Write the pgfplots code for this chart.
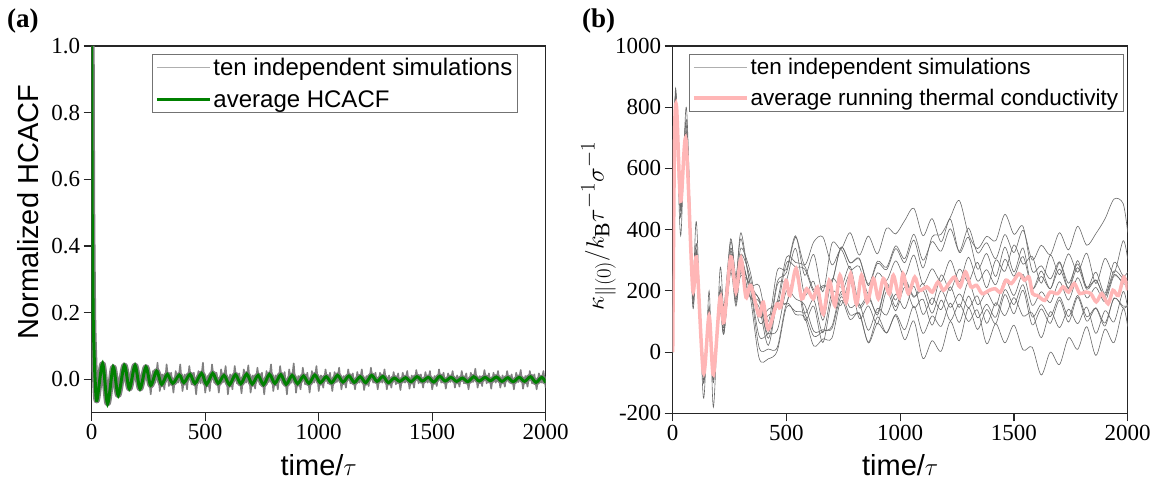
\documentclass[border=0pt]{standalone}
\usepackage{fontspec}
\setmainfont{Liberation Serif}
\newfontfamily\arialfont{Liberation Sans}
\usepackage{pgfplots}
\pgfplotsset{compat=1.18}
\usepackage{pgfplotstable}

\definecolor{hgreen}{RGB}{0,128,0}
\definecolor{kpink}{RGB}{255,182,182}
\definecolor{bandgray}{RGB}{128,128,128}
\definecolor{simgray}{RGB}{105,105,105}
\definecolor{leggray}{RGB}{175,175,175}

\pgfplotstableread{
t v
0 1.0
2 0.55
4 0.37
7 0.17
11 0.07
15 0.0
23 -0.063
48 0.047
70 -0.073
95 0.037
117 -0.048
144 0.042
166 -0.028
191 0.042
213 -0.028
239 0.037
260 -0.018
286 0.025
308 -0.015
333 0.015
357 -0.012
386 0.013
406 -0.010
433 0.015
455 -0.012
484 0.018
506 -0.015
533 0.018
557 -0.012
583 0.012
607 -0.016
633 0.014
657 -0.013
683 0.016
707 -0.014
733 0.012
757 -0.016
783 0.015
807 -0.012
833 0.014
857 -0.015
883 0.012
907 -0.013
933 0.010
957 -0.012
983 0.013
1007 -0.010
1033 0.008
1057 -0.010
1083 0.012
1107 -0.008
1133 0.010
1157 -0.009
1183 0.008
1207 -0.010
1233 0.012
1257 -0.006
1283 0.009
1307 -0.010
1333 0.004
1357 -0.006
1383 0.005
1407 -0.007
1433 0.008
1457 -0.005
1483 0.006
1507 -0.008
1533 0.009
1557 -0.005
1583 0.006
1607 -0.006
1633 0.004
1657 -0.007
1683 0.008
1707 -0.005
1733 0.006
1757 -0.004
1783 0.007
1807 -0.006
1833 0.005
1857 -0.007
1883 0.006
1907 -0.006
1933 0.008
1957 -0.009
1983 0.006
2000 -0.010
}\greendata

\pgfplotstableread{
t v
250 0.02
260 -0.045
270 0.025
280 -0.01
290 0.05
300 -0.035
310 0.015
320 -0.03
330 0.045
340 -0.02
350 0.02
360 -0.04
370 0.025
380 -0.01
390 0.045
400 -0.035
410 0.015
420 -0.03
430 0.04
440 -0.015
450 0.02
460 -0.045
470 0.025
480 -0.012
490 0.05
500 -0.04
510 0.01
520 -0.035
530 0.045
540 -0.01
550 0.02
560 -0.04
570 0.03
580 -0.008
590 0.04
600 -0.045
610 0.015
620 -0.03
630 0.04
640 -0.012
650 0.018
660 -0.042
670 0.03
680 -0.01
690 0.042
700 -0.04
710 0.012
720 -0.028
730 0.035
740 -0.015
750 0.02
760 -0.045
770 0.025
780 -0.008
790 0.045
800 -0.035
810 0.012
820 -0.03
830 0.04
840 -0.012
850 0.022
860 -0.045
870 0.03
880 -0.01
890 0.048
900 -0.04
910 0.01
920 -0.03
930 0.035
940 -0.015
950 0.02
960 -0.04
970 0.025
980 -0.01
990 0.04
1000 -0.035
1010 0.012
1020 -0.025
1030 0.03
1040 -0.012
1050 0.02
1060 -0.035
1070 0.022
1080 -0.008
1090 0.035
1100 -0.03
1110 0.01
1120 -0.025
1130 0.03
1140 -0.012
1150 0.018
1160 -0.03
1170 0.022
1180 -0.01
1190 0.03
1200 -0.032
1210 0.01
1220 -0.02
1230 0.035
1240 -0.01
1250 0.02
1260 -0.03
1270 0.02
1280 -0.01
1290 0.03
1300 -0.03
1310 0.012
1320 -0.025
1330 0.022
1340 -0.015
1350 0.018
1360 -0.032
1370 0.02
1380 -0.01
1390 0.025
1400 -0.028
1410 0.012
1420 -0.025
1430 0.028
1440 -0.012
1450 0.015
1460 -0.025
1470 0.022
1480 -0.01
1490 0.025
1500 -0.03
1510 0.01
1520 -0.02
1530 0.03
1540 -0.01
1550 0.02
1560 -0.028
1570 0.018
1580 -0.008
1590 0.025
1600 -0.025
1610 0.012
1620 -0.022
1630 0.025
1640 -0.012
1650 0.018
1660 -0.03
1670 0.02
1680 -0.008
1690 0.032
1700 -0.025
1710 0.01
1720 -0.02
1730 0.028
1740 -0.012
1750 0.018
1760 -0.028
1770 0.02
1780 -0.01
1790 0.025
1800 -0.025
1810 0.012
1820 -0.022
1830 0.025
1840 -0.01
1850 0.015
1860 -0.03
1870 0.02
1880 -0.008
1890 0.028
1900 -0.028
1910 0.01
1920 -0.022
1930 0.025
1940 -0.012
1950 0.015
1960 -0.03
1970 0.018
1980 -0.01
1990 0.025
2000 -0.025
}\zigdata

\pgfplotstableread{
t v
0 0
8 700
17 800
35 493
58 696
88 207
105 306
135 -68
160 119
179 -74
208 179
225 97
255 311
278 196
300 306
322 179
343 218
379 119
398 163
420 75
457 157
474 146
498 234
515 185
542 273
567 174
589 207
618 174
636 212
662 124
688 234
713 152
735 251
762 163
782 256
808 157
830 251
855 163
882 240
904 174
926 240
952 190
970 251
996 179
1012 256
1036 191
1064 245
1085 202
1117 213
1141 196
1166 229
1190 202
1214 224
1239 245
1263 213
1287 262
1311 213
1336 218
1360 191
1392 202
1417 207
1441 196
1465 235
1489 224
1522 256
1546 235
1566 245
1582 191
1603 185
1635 169
1659 196
1692 191
1716 213
1740 196
1765 224
1789 191
1813 196
1838 191
1862 164
1886 191
1914 158
1935 202
1959 185
1983 245
2000 202
}\pinkdata

\pgfplotstableread{
t s1 s2 s3 s4 s5 s6 s7 s8 s9 s10
0 0 0 0 0 0 0 0 0 0 0
8 700 680 720 650 740 690 710 670 730 700
15 820 780 850 790 810 760 830 800 780 840
35 470 520 440 500 380 530 460 510 490 480
60 720 680 760 690 800 650 710 700 740 670
88 210 180 240 150 200 230 190 220 170 210
105 320 290 420 300 330 280 310 350 270 300
135 -60 -90 -150 -40 -80 -20 -70 -100 -50 -60
160 130 100 200 110 150 90 120 140 80 110
179 -60 -100 -180 -40 -80 -50 -90 -70 -60 -20
208 190 160 270 150 200 170 180 210 140 130
225 110 80 150 60 120 90 100 130 70 60
255 330 290 370 280 340 300 320 360 260 270
278 210 170 240 160 230 190 200 250 150 180
300 320 280 390 270 340 300 310 370 260 250
340 245 180 225 210 265 205 185 225 180 215
380 98 146 217 15 118 175 -20 170 165 52
420 120 22 100 10 140 80 -22 45 60 60
460 148 162 267 16 168 230 5 165 220 72
500 291 158 270 157 310 260 147 160 235 200
540 278 259 380 123 293 375 133 262 339 174
580 271 105 251 114 281 285 125 129 187 154
620 197 150 319 20 204 360 52 171 231 68
660 212 31 197 43 217 376 68 63 104 73
700 227 172 355 46 230 285 85 195 238 77
740 342 153 337 169 343 335 198 186 212 181
780 292 229 390 106 291 270 145 253 280 121
820 307 110 317 129 304 280 158 145 154 125
860 222 151 379 32 217 190 71 177 187 30
900 297 92 321 115 290 259 143 128 121 94
940 277 199 405 62 269 234 121 224 220 63
980 347 135 386 119 338 298 189 170 148 123
1020 305 212 430 40 292 248 142 237 230 73
1060 385 145 470 102 366 317 215 182 179 150
1100 300 173 380 -21 275 222 123 202 224 61
1140 361 88 436 37 376 272 177 127 155 118
1180 330 170 360 3 385 231 139 201 252 84
1220 403 103 435 100 440 300 213 146 201 160
1260 329 157 325 37 495 230 146 190 271 97
1300 405 100 375 144 385 310 229 145 230 183
1340 324 137 271 74 338 232 155 183 293 112
1380 357 27 322 139 378 269 195 94 210 156
1420 305 93 247 93 364 220 151 161 301 114
1460 384 30 343 188 450 303 237 119 264 204
1500 325 88 262 125 385 248 185 178 350 155
1540 398 7 340 202 410 312 254 118 287 220
1580 301 16 208 89 265 207 153 128 313 115
1620 349 -75 265 141 282 247 197 47 225 155
1660 318 0 207 94 239 207 162 132 317 116
1700 390 -41 292 170 295 271 230 80 253 180
1740 334 47 209 98 225 207 170 140 321 116
1780 411 9 299 179 288 276 243 93 261 185
1820 349 83 210 101 212 205 177 147 323 115
1860 387 -11 261 143 236 235 211 61 224 145
1900 435 75 192 85 180 185 165 135 306 95
1940 500 31 293 177 254 265 249 99 258 175
1980 485 142 249 144 223 240 228 198 364 150
2000 390 82 262 152 222 242 232 142 302 152
}\simdata

\pgfplotsset{
  myaxis/.style={
    scale only axis,
    axis line style={line width=1.1pt, black!85},
    tick style={line width=1.1pt, black!85},
    major tick length=8pt,
    tick align=outside,
    tick pos=left,
    xmin=0, xmax=2000,
    xtick={0,500,1000,1500,2000},
    tick label style={font=\fontsize{23}{24}\selectfont},
    /pgf/number format/assume math mode=true,
    /pgf/number format/1000 sep={},
    xlabel style={at={(axis description cs:0.5,-0.142)}, anchor=center,
      font=\arialfont\fontsize{29}{32}\selectfont},
    legend cell align=left,
    legend image code/.code={\draw[##1] (0pt,0pt) -- (53pt,0pt);},
    legend style={draw=black!55, line width=0.8pt, fill=white,
      inner xsep=3pt, inner ysep=2pt, row sep=9pt},
  }
}

\begin{document}
\begin{tikzpicture}[x=1pt,y=1pt]
\useasboundingbox (0,0) rectangle (1156,482);

% ---------- panel (a) ----------
\begin{axis}[myaxis,
  at={(91.7pt,69.3pt)}, anchor=south west,
  width=454pt, height=366.7pt,
  ymin=-0.1, ymax=1.0,
  ytick={0,0.2,0.4,0.6,0.8,1.0},
  yticklabel style={/pgf/number format/.cd, fixed, fixed zerofill, precision=1},
  xlabel={time/$\tau$},
  ylabel={Normalized HCACF},
  ylabel style={at={(axis description cs:-0.140,0.547)}, anchor=center,
    font=\arialfont\fontsize{29}{32}\selectfont},
  legend style={at={(0.133,0.978)}, anchor=north west,
    font=\arialfont\fontsize{24}{28}\selectfont},
]
\addplot[bandgray, line width=6pt, smooth, line join=round, forget plot] table[x=t,y=v] {\greendata};
\addplot[bandgray, line width=1.6pt, line join=round, forget plot] table[x=t,y=v] {\zigdata};
\addlegendimage{leggray, line width=1pt}
\addlegendentry{ten independent simulations}
\addplot[hgreen, line width=3pt, smooth] table[x=t,y=v] {\greendata};
\addlegendentry{average HCACF}
\end{axis}

% ---------- panel (b) ----------
\begin{axis}[myaxis,
  at={(672.7pt,68.7pt)}, anchor=south west,
  width=455pt, height=367.3pt,
  ymin=-200, ymax=1000,
  ytick={-200,0,200,400,600,800,1000},
  xlabel={time/$\tau$},
  ylabel={$\kappa_{\parallel(0)}/k_{\mathrm{B}}\tau^{-1}\sigma^{-1}$},
  ylabel style={at={(axis description cs:-0.163,0.51)}, anchor=center,
    font=\fontsize{31}{34}\selectfont},
  legend style={at={(0.991,0.978)}, anchor=north east,
    font=\arialfont\fontsize{22.5}{28}\selectfont},
]
\pgfplotsinvokeforeach{1,...,10}{
  \addplot[simgray, line width=0.6pt, smooth, forget plot] table[x=t,y=s#1] {\simdata};
}
\addlegendimage{leggray, line width=1pt}
\addlegendentry{ten independent simulations}
\addplot[kpink, line width=3.5pt, smooth] table[x=t,y=v] {\pinkdata};
\addlegendentry{average running thermal conductivity}
\end{axis}

\node[anchor=west, inner sep=0pt, font=\bfseries\fontsize{27}{29}\selectfont] at (7,461) {(a)};
\node[anchor=west, inner sep=0pt, font=\bfseries\fontsize{27}{29}\selectfont] at (582,461) {(b)};
\end{tikzpicture}
\end{document}
